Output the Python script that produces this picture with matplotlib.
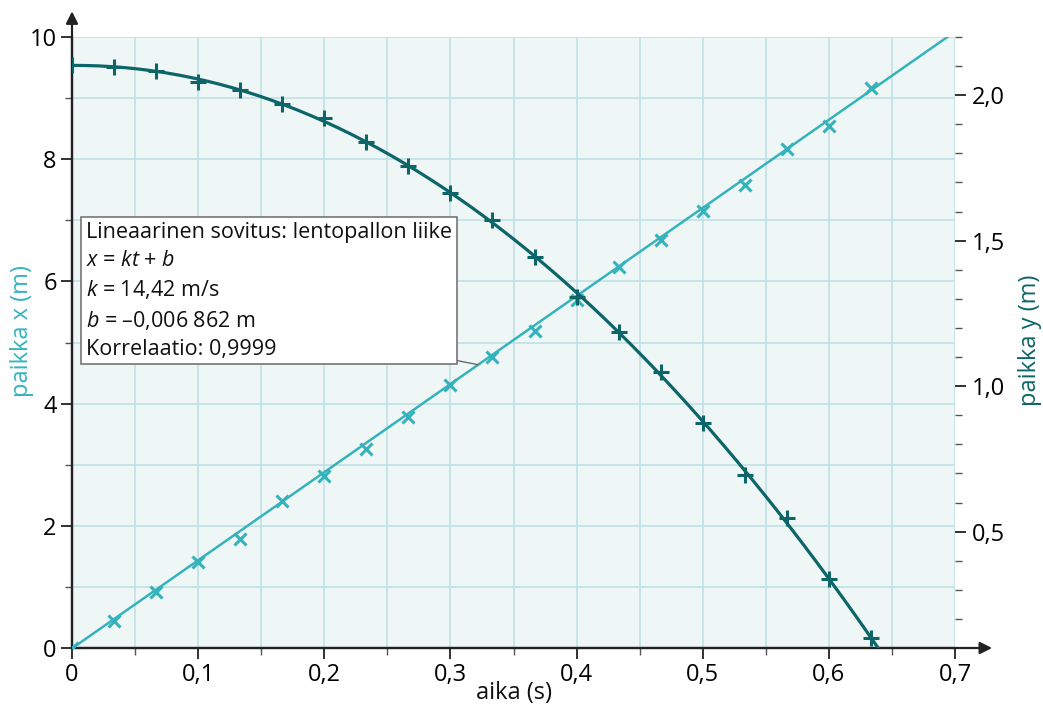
import numpy as np
import matplotlib
matplotlib.use('Agg')
import matplotlib.pyplot as plt
from matplotlib.ticker import MultipleLocator, FixedLocator, FuncFormatter

plt.rcParams['font.family'] = ['Open Sans', 'DejaVu Sans']
plt.rcParams['mathtext.fontset'] = 'custom'
plt.rcParams['mathtext.rm'] = 'Open Sans'
plt.rcParams['mathtext.it'] = 'Open Sans:italic'

# measurements (time in s, positions in m)
t = [0.0, 0.0333, 0.0667, 0.1, 0.1333, 0.1667, 0.2, 0.2333, 0.2667, 0.3,
     0.3333, 0.3667, 0.4, 0.4333, 0.4667, 0.5, 0.5333, 0.5667, 0.6, 0.6333]
pos_x = [0.0, 0.44, 0.92, 1.41, 1.79, 2.41, 2.82, 3.26, 3.78, 4.30,
         4.76, 5.19, 5.70, 6.24, 6.67, 7.15, 7.58, 8.17, 8.54, 9.17]
pos_y = [2.104, 2.097, 2.083, 2.045, 2.018, 1.970, 1.922, 1.839, 1.757, 1.664,
         1.571, 1.444, 1.306, 1.186, 1.049, 0.874, 0.695, 0.547, 0.337, 0.135]

# linear fit shown in the box
k_fit = 14.42
b_fit = -0.006862

CYAN = '#35b3bd'
TEAL = '#0c6568'
GRID = '#bfe2e6'
BG = '#eff6f6'
AXC = '#222222'

fig = plt.figure(figsize=(10.43, 7.11), dpi=100)
ax = fig.add_axes([72/1043, 63/711, 883/1043, 611/711])
ax2 = ax.twinx()

ax.set_facecolor(BG)
ax.set_xlim(0, 0.7)
ax.set_ylim(0, 10)
ax2.set_ylim(0.1, 2.2)

# grid
ax.xaxis.set_major_locator(MultipleLocator(0.1))
ax.xaxis.set_minor_locator(MultipleLocator(0.05))
ax.yaxis.set_major_locator(MultipleLocator(2))
ax.yaxis.set_minor_locator(MultipleLocator(1))
ax.grid(True, which='both', color=GRID, lw=1.2)
ax.set_axisbelow(True)

comma = FuncFormatter(lambda v, p: ('%g' % round(v, 3)).replace('.', ','))
ax.xaxis.set_major_formatter(comma)
ax.yaxis.set_major_formatter(FuncFormatter(lambda v, p: '%d' % v))
ax2.yaxis.set_major_locator(FixedLocator([0.5, 1.0, 1.5, 2.0]))
ax2.yaxis.set_minor_locator(FixedLocator([0.2, 0.3, 0.4, 0.6, 0.7, 0.8, 0.9, 1.1, 1.2,
                                          1.3, 1.4, 1.6, 1.7, 1.8, 1.9, 2.1, 2.2]))
ax2.yaxis.set_major_formatter(FuncFormatter(lambda v, p: ('%.1f' % v).replace('.', ',')))

for a in (ax, ax2):
    for s in a.spines.values():
        s.set_visible(False)
ax.spines['left'].set_visible(True)
ax.spines['bottom'].set_visible(True)
ax.spines['left'].set_color(AXC)
ax.spines['bottom'].set_color(AXC)
ax.spines['left'].set_linewidth(1.6)
ax.spines['bottom'].set_linewidth(1.6)

ax.tick_params(which='major', length=8, width=1.3, color=AXC, labelsize=17, pad=3)
ax.tick_params(which='minor', length=5, width=1.0, color='#555555')
ax2.tick_params(which='major', length=8, width=1.3, color=AXC, labelsize=17, pad=4)
ax2.tick_params(which='minor', length=5, width=1.0, color='#555555')

# axis arrows
ax.annotate('', xy=(1.042, 0), xytext=(0, 0), xycoords='axes fraction',
            arrowprops=dict(arrowstyle='-|>', color=AXC, lw=1.6, mutation_scale=18,
                            shrinkA=0, shrinkB=0), annotation_clip=False)
ax.annotate('', xy=(0, 1.042), xytext=(0, 0), xycoords='axes fraction',
            arrowprops=dict(arrowstyle='-|>', color=AXC, lw=1.6, mutation_scale=18,
                            shrinkA=0, shrinkB=0), annotation_clip=False)

# x(t): fit line + points
tt = np.linspace(0, 0.7, 200)
ax.plot(tt, k_fit * tt + b_fit, color=CYAN, lw=1.8, zorder=3)
ax.plot(t, pos_x, ls='none', marker='x', ms=9, mew=2.2, color=CYAN, zorder=4)

# y(t): quadratic through the points
c = np.polyfit(t, pos_y, 2)
ax2.plot(tt, np.polyval(c, tt), color=TEAL, lw=2.3, zorder=3)
ax2.plot(t, pos_y, ls='none', marker='+', ms=12, mew=2.2, color=TEAL, zorder=4)

# fit info box
txt = ('Lineaarinen sovitus: lentopallon liike\n'
       '$x$ = $kt$ + $b$\n'
       '$k$ = 14,42 m/s\n'
       '$b$ = \u20130,006 862 m\n'
       'Korrelaatio: 0,9999')
ax2.annotate(txt, xy=(0.322, (k_fit * 0.322 + b_fit) / 10 * 2.1 + 0.1), xycoords='data',
             xytext=(0.016, 0.472), textcoords='axes fraction',
             ha='left', va='bottom', fontsize=15.5, linespacing=1.42, color='#111111',
             bbox=dict(boxstyle='square,pad=0.22', fc='white', ec='#6b6b6b', lw=1.1),
             arrowprops=dict(arrowstyle='-', color='#6b6b6b', lw=1.0, relpos=(1, 0),
                             shrinkA=0, shrinkB=0), zorder=10)

# axis labels
fig.text(514/1043, 1 - 693/711, 'aika (s)', ha='center', va='center', fontsize=17, color='#111111')
fig.text(22/1043, 1 - 331/711, 'paikka x (m)', ha='center', va='center', rotation=90,
         fontsize=17, color=CYAN)
fig.text(1030/1043, 1 - 340/711, 'paikka y (m)', ha='center', va='center', rotation=90,
         fontsize=17, color=TEAL)

fig.savefig('out.png', dpi=100)
